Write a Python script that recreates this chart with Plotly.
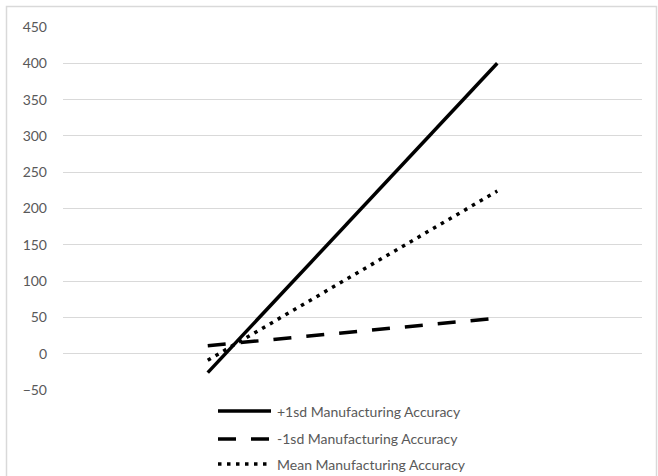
import plotly.graph_objects as go

# Two conditions on the x axis (unlabelled), three moderator levels
categories = ["Low", "High"]
plus_1sd = [-26, 400]
minus_1sd = [11, 49]
mean_level = [-9, 224]
series_names = ["+1sd Manufacturing Accuracy",
                "-1sd Manufacturing Accuracy",
                "Mean Manufacturing Accuracy"]
y_ticks = [-50, 0, 50, 100, 150, 200, 250, 300, 350, 400, 450]

W, H = 658, 476
L, R, T, B = 63, 16, 27, 86
plot_w = W - L - R
plot_h = H - T - B


def px_x(px):
    return (px - L) / plot_w


def px_y(py):
    return (H - B - py) / plot_h


text_col = "#595959"
styles = [
    dict(color="black", width=3.5, dash="solid"),
    dict(color="black", width=3.5, dash="18px,15px"),
    dict(color="black", width=3.5, dash="3.5px,5.5px"),
]
values = [plus_1sd, minus_1sd, mean_level]

fig = go.Figure()
for name, vals, st in zip(series_names, values, styles):
    fig.add_trace(go.Scatter(x=categories, y=vals, mode="lines", name=name,
                             line=st, showlegend=False, hoverinfo="y"))

shapes = [
    # outer chart frame
    dict(type="rect", xref="paper", yref="paper",
         x0=px_x(6.5), x1=px_x(656.5), y0=px_y(480), y1=px_y(6.5),
         line=dict(color="#d9d9d9", width=1.5), fillcolor="rgba(0,0,0,0)",
         layer="below"),
]
annotations = []
legend_rows = [411, 439, 464]
for name, st, ry in zip(series_names, styles, legend_rows):
    shapes.append(dict(type="line", xref="paper", yref="paper",
                       x0=px_x(218), x1=px_x(271), y0=px_y(ry), y1=px_y(ry),
                       line=st))
    annotations.append(dict(text=name, xref="paper", yref="paper",
                            x=px_x(275), y=px_y(ry), xanchor="left",
                            yanchor="middle", showarrow=False,
                            font=dict(size=14, color=text_col)))

fig.update_layout(
    width=W, height=H,
    margin=dict(l=L, r=R, t=T, b=B),
    paper_bgcolor="white", plot_bgcolor="white",
    font=dict(family="Lato, Open Sans, sans-serif", size=14, color=text_col),
    shapes=shapes, annotations=annotations,
    xaxis=dict(showticklabels=False, showgrid=False, zeroline=False,
               showline=False, ticks="", range=[-0.5, 1.5]),
    yaxis=dict(range=[-50, 450], tickvals=y_ticks, showgrid=True,
               gridcolor="#d9d9d9", gridwidth=1.3, zeroline=False,
               showline=False, ticks="", ticklabelstandoff=15,
               tickfont=dict(size=14, color=text_col)),
)

fig.write_html("out.html")
